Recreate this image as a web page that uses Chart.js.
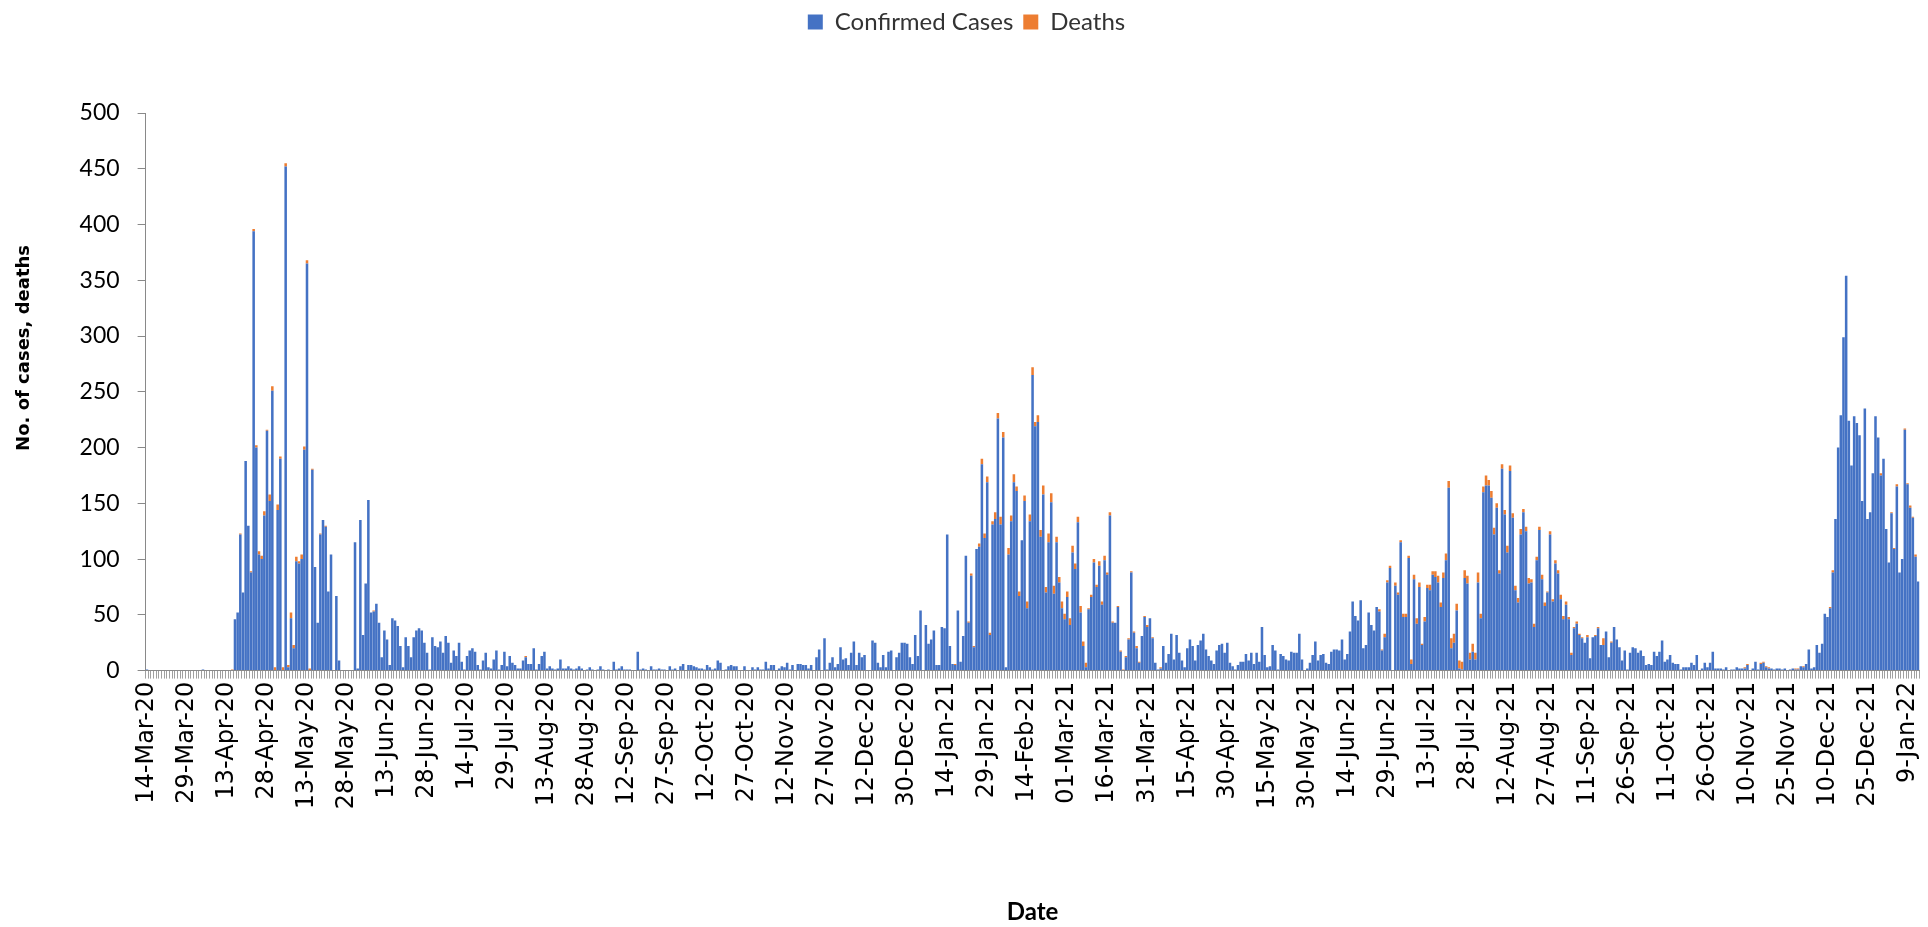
<!DOCTYPE html>
<html>
<head>
<meta charset="utf-8">
<title>Confirmed cases and deaths</title>
<script src="https://cdn.jsdelivr.net/npm/chart.js@4.4.1/dist/chart.umd.min.js"></script>
<style>
  html, body { margin: 0; padding: 0; background: #fff; overflow: hidden; }
  #wrap { position: relative; width: 1950px; height: 927px; }
</style>
</head>
<body>
<div id="wrap"><canvas id="casesChart"></canvas></div>
<script>
// one label every 15 days on the date axis
const tickLabels = [
  '14-Mar-20', '29-Mar-20', '13-Apr-20', '28-Apr-20', '13-May-20', '28-May-20', '13-Jun-20', '28-Jun-20',
  '14-Jul-20', '29-Jul-20', '13-Aug-20', '28-Aug-20', '12-Sep-20', '27-Sep-20', '12-Oct-20', '27-Oct-20',
  '12-Nov-20', '27-Nov-20', '12-Dec-20', '30-Dec-20', '14-Jan-21', '29-Jan-21', '14-Feb-21', '01-Mar-21',
  '16-Mar-21', '31-Mar-21', '15-Apr-21', '30-Apr-21', '15-May-21', '30-May-21', '14-Jun-21', '29-Jun-21',
  '13-Jul-21', '28-Jul-21', '12-Aug-21', '27-Aug-21', '11-Sep-21', '26-Sep-21', '11-Oct-21', '26-Oct-21',
  '10-Nov-21', '25-Nov-21', '10-Dec-21', '25-Dec-21', '9-Jan-22'
];

// daily confirmed cases, one row per label above
const confirmed = [
  1, 0, 0, 0, 0, 0, 0, 0, 0, 0, 0, 0, 0, 0, 0,
  0, 0, 0, 0, 0, 0, 1, 0, 0, 0, 0, 0, 0, 0, 0,
  0, 0, 0, 46, 52, 122, 70, 188, 130, 88, 394, 200, 104, 100, 139,
  215, 152, 251, 0, 144, 190, 0, 452, 3, 47, 20, 98, 96, 100, 198,
  365, 0, 180, 93, 43, 122, 135, 129, 71, 104, 0, 67, 9, 0, 0,
  0, 0, 0, 115, 2, 135, 32, 78, 153, 52, 53, 60, 43, 12, 36,
  28, 5, 47, 45, 40, 22, 3, 30, 22, 12, 30, 36, 38, 36, 25,
  16, 1, 30, 22, 21, 26, 16, 31, 25, 7, 18, 13, 25, 8, 1,
  13, 18, 20, 17, 5, 1, 9, 16, 3, 2, 10, 18, 1, 5, 17,
  4, 13, 7, 5, 2, 2, 9, 12, 6, 6, 20, 1, 6, 13, 17,
  2, 4, 2, 1, 2, 10, 2, 2, 4, 2, 1, 2, 4, 2, 0,
  1, 3, 1, 0, 1, 4, 1, 0, 1, 0, 8, 1, 2, 4, 1,
  1, 1, 0, 0, 17, 1, 2, 1, 0, 4, 1, 1, 2, 1, 1,
  0, 4, 1, 2, 0, 4, 6, 0, 5, 5, 4, 3, 2, 2, 1,
  5, 3, 1, 2, 9, 7, 0, 1, 4, 5, 4, 4, 0, 0, 4,
  0, 0, 3, 1, 3, 1, 1, 8, 2, 5, 5, 0, 2, 4, 3,
  7, 1, 5, 0, 6, 6, 5, 5, 2, 5, 0, 12, 19, 0, 29,
  1, 7, 12, 3, 6, 21, 10, 11, 5, 16, 26, 5, 16, 12, 14,
  0, 0, 27, 25, 7, 3, 14, 3, 17, 18, 0, 12, 16, 25, 25,
  24, 12, 6, 32, 13, 54, 0, 41, 24, 28, 36, 5, 5, 39, 38,
  122, 22, 6, 5, 54, 8, 31, 103, 43, 85, 21, 109, 111, 185, 119,
  169, 32, 131, 136, 226, 131, 209, 3, 104, 134, 169, 161, 67, 117, 152,
  56, 134, 265, 219, 223, 120, 158, 70, 115, 151, 69, 115, 79, 56, 46,
  66, 41, 106, 91, 133, 52, 22, 3, 55, 66, 97, 75, 94, 59, 99,
  86, 139, 43, 43, 57, 17, 0, 12, 28, 88, 34, 20, 7, 31, 48,
  39, 47, 29, 7, 1, 2, 22, 7, 15, 33, 10, 32, 16, 9, 3,
  20, 28, 22, 9, 23, 27, 33, 19, 13, 9, 6, 18, 23, 24, 16,
  25, 7, 4, 1, 5, 8, 8, 15, 9, 16, 6, 16, 8, 39, 14,
  3, 4, 23, 18, 1, 15, 13, 10, 9, 17, 16, 16, 33, 10, 0,
  2, 7, 14, 26, 9, 14, 15, 7, 6, 17, 19, 19, 18, 28, 10,
  15, 35, 62, 49, 45, 63, 20, 23, 52, 41, 36, 57, 53, 18, 30,
  79, 92, 0, 76, 68, 115, 48, 48, 101, 6, 82, 42, 75, 23, 44,
  74, 72, 86, 84, 79, 57, 83, 99, 164, 20, 25, 54, 2, 1, 83,
  78, 10, 17, 10, 79, 47, 160, 166, 166, 155, 122, 146, 87, 181, 140,
  106, 179, 137, 72, 61, 122, 142, 125, 78, 79, 39, 99, 126, 82, 58,
  70, 122, 62, 96, 87, 64, 46, 59, 46, 14, 38, 42, 32, 29, 25,
  30, 11, 30, 31, 38, 23, 23, 35, 12, 25, 39, 28, 21, 9, 18,
  1, 16, 21, 20, 16, 18, 13, 5, 6, 5, 17, 13, 17, 27, 8,
  10, 14, 7, 6, 6, 1, 3, 3, 3, 7, 5, 14, 0, 2, 7,
  3, 7, 17, 2, 2, 2, 1, 3, 0, 1, 1, 3, 2, 2, 2,
  5, 0, 2, 8, 1, 6, 7, 3, 2, 2, 1, 2, 2, 1, 2,
  0, 1, 2, 1, 1, 4, 3, 6, 19, 2, 3, 23, 16, 24, 51,
  48, 56, 88, 136, 200, 229, 299, 354, 224, 184, 228, 222, 211, 152, 235,
  136, 142, 177, 228, 209, 175, 190, 127, 97, 141, 109, 165, 88, 100, 216,
  167, 146, 137, 102, 80
];

// daily deaths, stacked on top of the cases
const deaths = [
  0, 0, 0, 0, 0, 0, 0, 0, 0, 0, 0, 0, 0, 0, 0,
  0, 0, 0, 0, 0, 0, 0, 0, 0, 0, 0, 0, 0, 0, 0,
  0, 0, 1, 0, 0, 1, 0, 0, 0, 1, 2, 2, 3, 3, 4,
  1, 6, 4, 3, 5, 2, 3, 3, 2, 5, 3, 4, 2, 4, 3,
  3, 2, 1, 0, 0, 1, 0, 1, 0, 0, 0, 0, 0, 0, 0,
  0, 0, 0, 0, 0, 0, 0, 0, 0, 0, 1, 0, 0, 0, 0,
  0, 0, 0, 0, 0, 0, 0, 0, 0, 0, 0, 0, 0, 0, 0,
  0, 0, 0, 0, 0, 0, 0, 0, 0, 0, 0, 0, 0, 0, 0,
  0, 0, 0, 0, 0, 0, 0, 0, 0, 0, 0, 0, 0, 0, 0,
  0, 0, 0, 0, 0, 0, 0, 1, 0, 0, 0, 0, 0, 0, 0,
  0, 0, 0, 0, 0, 0, 0, 0, 0, 0, 0, 0, 0, 0, 0,
  0, 0, 0, 0, 0, 0, 0, 0, 0, 0, 0, 0, 0, 0, 0,
  0, 0, 0, 0, 0, 0, 0, 0, 0, 0, 0, 0, 0, 0, 0,
  0, 0, 0, 0, 0, 0, 0, 0, 0, 0, 0, 0, 0, 0, 0,
  0, 0, 0, 0, 0, 0, 0, 0, 0, 0, 0, 0, 0, 0, 0,
  0, 0, 0, 0, 0, 0, 0, 0, 0, 0, 0, 0, 0, 0, 0,
  0, 0, 0, 0, 0, 0, 0, 0, 0, 0, 0, 0, 0, 0, 0,
  0, 0, 0, 0, 0, 0, 0, 0, 0, 0, 0, 0, 0, 0, 0,
  0, 0, 0, 0, 0, 0, 0, 0, 0, 0, 0, 0, 0, 0, 0,
  0, 0, 0, 0, 0, 0, 0, 0, 0, 0, 0, 0, 0, 0, 0,
  0, 0, 0, 1, 0, 0, 0, 0, 1, 2, 1, 0, 3, 5, 4,
  5, 2, 3, 6, 5, 7, 5, 0, 6, 5, 7, 4, 4, 0, 5,
  6, 6, 7, 4, 6, 6, 8, 5, 8, 8, 7, 5, 5, 6, 5,
  5, 6, 6, 5, 5, 6, 4, 4, 1, 2, 3, 2, 4, 3, 4,
  2, 3, 1, 0, 1, 1, 1, 1, 1, 1, 1, 2, 1, 0, 1,
  2, 0, 1, 0, 0, 1, 0, 0, 0, 0, 0, 0, 0, 0, 0,
  0, 0, 0, 0, 0, 0, 0, 0, 0, 0, 0, 0, 0, 0, 0,
  0, 0, 0, 0, 0, 0, 0, 0, 0, 0, 0, 0, 0, 0, 0,
  0, 0, 0, 0, 0, 0, 0, 0, 0, 0, 0, 0, 0, 0, 0,
  0, 0, 0, 0, 0, 0, 0, 0, 0, 0, 0, 0, 0, 0, 0,
  0, 0, 0, 0, 0, 0, 0, 0, 0, 0, 0, 0, 2, 1, 3,
  2, 2, 0, 3, 2, 2, 3, 3, 2, 4, 4, 5, 4, 1, 4,
  3, 5, 3, 5, 6, 4, 5, 6, 6, 9, 8, 6, 7, 7, 7,
  7, 6, 7, 6, 9, 4, 5, 9, 5, 6, 6, 4, 3, 4, 4,
  6, 5, 4, 4, 4, 5, 3, 4, 5, 3, 3, 3, 3, 4, 3,
  1, 3, 2, 3, 3, 4, 3, 3, 2, 2, 1, 2, 1, 1, 0,
  2, 0, 0, 1, 1, 0, 6, 0, 0, 1, 0, 0, 0, 0, 0,
  0, 0, 0, 0, 0, 0, 0, 0, 0, 0, 0, 0, 0, 0, 0,
  0, 0, 0, 0, 0, 0, 0, 0, 0, 0, 0, 0, 0, 0, 0,
  0, 0, 0, 0, 0, 0, 0, 0, 0, 0, 0, 0, 0, 0, 1,
  1, 0, 0, 0, 0, 1, 1, 1, 1, 0, 0, 0, 0, 0, 0,
  0, 0, 0, 1, 1, 0, 1, 0, 0, 0, 0, 0, 0, 0, 0,
  0, 1, 2, 0, 0, 0, 0, 0, 0, 0, 0, 0, 0, 0, 0,
  0, 0, 0, 0, 0, 2, 0, 0, 0, 1, 1, 2, 0, 0, 1,
  1, 2, 1, 2, 0
];

// every 15th day carries a date label, the rest stay blank
const categories = confirmed.map((v, i) => (i % 15 === 0 ? tickLabels[i / 15] : ''));

// the axis title sits above the middle of the axis in the original;
// leading spaces nudge the centred text upwards
const yTitle = 'No. of cases, deaths';

// push the plot down below the legend, like the original
const legendGap = {
  id: 'legendGap',
  beforeInit(chart) {
    const fit = chart.legend.fit;
    chart.legend.fit = function () {
      fit.bind(chart.legend)();
      this.height += 69;
    };
  }
};

const axisGrey = '#898989';

new Chart(document.getElementById('casesChart'), {
  type: 'bar',
  data: {
    labels: categories,
    datasets: [
      {
        label: 'Confirmed Cases',
        data: confirmed,
        backgroundColor: '#4472C4',
        barPercentage: 0.95,
        categoryPercentage: 1
      },
      {
        label: 'Deaths',
        data: deaths,
        backgroundColor: '#ED7D31',
        barPercentage: 0.95,
        categoryPercentage: 1
      }
    ]
  },
  options: {
    responsive: true,
    maintainAspectRatio: false,
    animation: false,
    layout: { padding: { left: 8, right: 25, top: 0, bottom: 0 } },
    plugins: {
      legend: {
        position: 'top',
        labels: {
          boxWidth: 15,
          boxHeight: 15,
          padding: 10,
          color: '#333',
          font: { family: 'Lato', size: 24 }
        }
      },
      tooltip: { enabled: false }
    },
    scales: {
      x: {
        stacked: true,
        border: { color: axisGrey, width: 1 },
        grid: { drawOnChartArea: false, tickLength: 8, color: '#a0a0a0' },
        ticks: {
          autoSkip: false,
          minRotation: 90,
          maxRotation: 90,
          padding: 3,
          color: '#000',
          font: { family: 'DejaVu Sans', size: 24 }
        },
        title: {
          display: true,
          text: 'Date',
          color: '#000',
          font: { family: 'Lato', size: 24, weight: 'bold' },
          padding: { top: 86, bottom: 0 }
        }
      },
      y: {
        stacked: true,
        min: 0,
        max: 500,
        border: { color: axisGrey, width: 1 },
        grid: { drawOnChartArea: false, tickLength: 8, color: axisGrey },
        ticks: {
          stepSize: 50,
          padding: 18,
          color: '#000',
          font: { family: 'Lato', size: 23 }
        },
        title: {
          display: true,
          text: yTitle.padStart(yTitle.length + 14),
          color: '#000',
          font: { family: 'DejaVu Sans', size: 18, weight: 'bold' },
          padding: { top: 6, bottom: 26 }
        }
      }
    }
  },
  plugins: [legendGap]
});
</script>
</body>
</html>
